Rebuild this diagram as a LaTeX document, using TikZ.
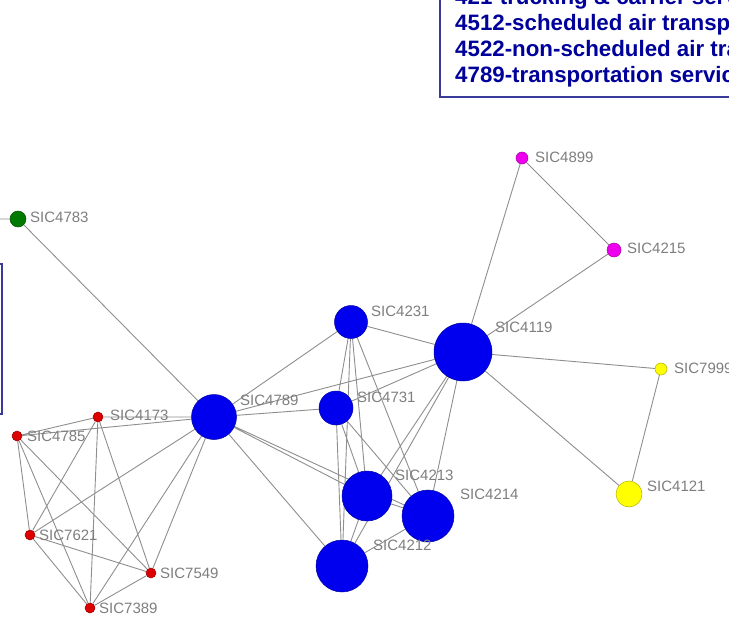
\documentclass[tikz,border=0pt]{standalone}
\usepackage{fontspec}
\setmainfont{Liberation Sans}
\definecolor{edgegray}{HTML}{8E8E8E}
\definecolor{labgray}{HTML}{7E7E7E}
\definecolor{nblue}{HTML}{0000EE}
\definecolor{ngreen}{HTML}{007A00}
\definecolor{nmag}{HTML}{EE00EE}
\definecolor{nyel}{HTML}{FFFF00}
\definecolor{nred}{HTML}{DD0000}
\definecolor{boxblue}{HTML}{3A3A9A}
\definecolor{boxtext}{HTML}{00009A}
\pgfdeclarelayer{background}
\pgfsetlayers{background,main}
\begin{document}
\begin{tikzpicture}[x=1pt,y=-1pt,
  vtx/.style={circle,inner sep=0pt,draw=#1!70!black,line width=0.5pt,fill=#1},
  lab/.style={anchor=west,inner sep=0pt,text=labgray,font=\fontsize{15}{17}\selectfont},
  edge/.style={draw=edgegray,line width=0.9pt},
  boxtxt/.style={anchor=base west,inner sep=0pt,text=boxtext,font=\bfseries\fontsize{22.3}{26}\selectfont}]
\useasboundingbox (0,0) rectangle (729,618);
\clip (0,0) rectangle (729,618);
% info box top right
\draw[boxblue,line width=1.3pt] (440,-10) rectangle (780,97);
\node[boxtxt] (t1) at (455,5) {421-trucking \& carrier services};
\node[boxtxt] (t2) at (455,31) {4512-scheduled air transportation};
\node[boxtxt] (t3) at (455,57) {4522-non-scheduled air transportation};
\node[boxtxt] (t4) at (455,83) {4789-transportation services};
% partial box on the left
\draw[boxblue,line width=1.3pt] (-10,264) -- (2,264) -- (2,414) -- (-10,414);
% vertices
\coordinate (lft) at (0,219);
\node[vtx=ngreen,minimum size=16pt] (n4783) at (18,219) {};
\node[vtx=nblue,minimum size=45pt] (n4789) at (214,417) {};
\node[vtx=nblue,minimum size=33pt] (n4231) at (351,322) {};
\node[vtx=nblue,minimum size=58pt] (n4119) at (463,352) {};
\node[vtx=nblue,minimum size=34pt] (n4731) at (336,408) {};
\node[vtx=nblue,minimum size=50pt] (n4213) at (367,496) {};
\node[vtx=nblue,minimum size=52pt] (n4214) at (428,516) {};
\node[vtx=nblue,minimum size=52pt] (n4212) at (342,566) {};
\node[vtx=nmag,minimum size=12pt] (n4899) at (522,158) {};
\node[vtx=nmag,minimum size=14pt] (n4215) at (614,250) {};
\node[vtx=nyel,minimum size=12pt] (n7999) at (661,369) {};
\node[vtx=nyel,minimum size=26pt] (n4121) at (629,494) {};
\node[vtx=nred,minimum size=10pt] (n4173) at (98,417) {};
\node[vtx=nred,minimum size=10pt] (n4785) at (17,436) {};
\node[vtx=nred,minimum size=10pt] (n7621) at (30,535) {};
\node[vtx=nred,minimum size=10pt] (n7549) at (151,573) {};
\node[vtx=nred,minimum size=10pt] (n7389) at (90,608) {};
% edges (behind the vertices)
\begin{pgfonlayer}{background}
\path[edge]
  (lft) -- (n4783) (n4783) -- (n4789)
  (n4785) -- (n4173) (n4785) -- (n7621) (n4785) -- (n7549) (n4785) -- (n7389) (n4785) -- (n4789)
  (n4173) -- (n7621) (n4173) -- (n7549) (n4173) -- (n7389) (n4173) -- (n4789)
  (n7621) -- (n7549) (n7621) -- (n7389) (n7621) -- (n4789)
  (n7549) -- (n7389) (n7549) -- (n4789) (n7389) -- (n4789)
  (n4789) -- (n4231) (n4789) -- (n4119) (n4789) -- (n4731) (n4789) -- (n4213) (n4789) -- (n4214) (n4789) -- (n4212)
  (n4231) -- (n4119) (n4231) -- (n4731) (n4231) -- (n4213) (n4231) -- (n4212) (n4231) -- (n4214)
  (n4731) -- (n4119) (n4731) -- (n4213) (n4731) -- (n4212) (n4731) -- (n4214)
  (n4119) -- (n4213) (n4119) -- (n4212) (n4119) -- (n4214)
  (n4213) -- (n4212) (n4213) -- (n4214) (n4214) -- (n4212)
  (n4119) -- (n4899) (n4119) -- (n4215) (n4899) -- (n4215)
  (n4119) -- (n7999) (n4119) -- (n4121) (n7999) -- (n4121);
\end{pgfonlayer}
% labels
\node[lab] (l4783) at (30,217) {SIC4783};
\node[lab] (l4173) at (110,415) {SIC4173};
\node[lab] (l4785) at (27,436) {SIC4785};
\node[lab] (l7621) at (39,535) {SIC7621};
\node[lab] (l7549) at (160,573) {SIC7549};
\node[lab] (l7389) at (99,608) {SIC7389};
\node[lab] (l4789) at (240,400) {SIC4789};
\node[lab] (l4231) at (371,311) {SIC4231};
\node[lab] (l4119) at (495,327) {SIC4119};
\node[lab] (l4731) at (357,397) {SIC4731};
\node[lab] (l4213) at (395,475) {SIC4213};
\node[lab] (l4214) at (460,494) {SIC4214};
\node[lab] (l4212) at (373,545) {SIC4212};
\node[lab] (l4899) at (535,157) {SIC4899};
\node[lab] (l4215) at (627,248) {SIC4215};
\node[lab] (l7999) at (674,368) {SIC7999};
\node[lab] (l4121) at (647,486) {SIC4121};
\end{tikzpicture}
\end{document}
